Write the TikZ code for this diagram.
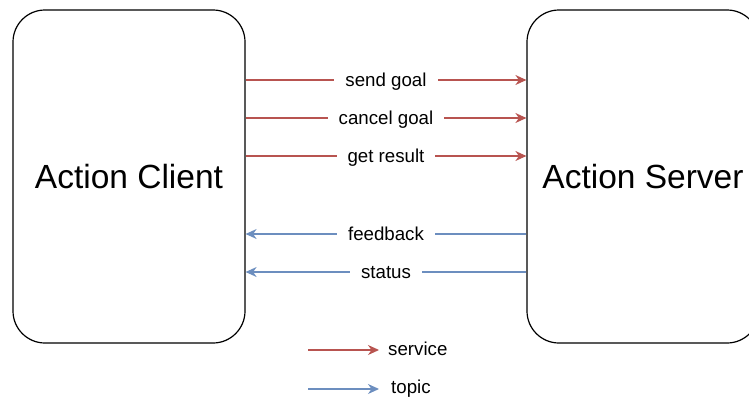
\documentclass[tikz,border=0pt]{standalone}
\usepackage{fontspec}
\setmainfont{Liberation Sans}
\usetikzlibrary{arrows.meta}
\definecolor{svcred}{HTML}{B85450}
\definecolor{topblue}{HTML}{6C8EBF}
\begin{document}
\begin{tikzpicture}[x=1pt,y=-1pt,
  actor/.style={draw=black, line width=1.2pt, rounded corners=32pt, minimum width=232pt, minimum height=333pt, inner sep=0pt, font=\fontsize{33.5}{40}\selectfont},
  tip/.style={-{Stealth[length=11pt,width=10pt,inset=3.5pt]}},
  svc/.style={tip, draw=svcred, line width=1.2pt},
  tpc/.style={tip, draw=topblue, line width=1.2pt},
  lbl/.style={fill=white, text=black, font=\fontsize{18.7}{22}\selectfont, inner xsep=11pt, inner ysep=2pt, text height=13.4pt, text depth=0pt},
  legend/.style={anchor=base west, inner sep=0pt, font=\fontsize{18.7}{22}\selectfont}]
\clip (0,0) rectangle (749,399);
\node[actor] (client) at (129,176.5) {Action Client};
\node[actor] (server) at (643,176.5) {Action Server};
\coordinate (y1) at (0,80);
\coordinate (y2) at (0,118);
\coordinate (y3) at (0,156);
\coordinate (y4) at (0,234);
\coordinate (y5) at (0,272);
\draw[svc] (client.east |- y1) -- node[lbl] {send goal} (server.west |- y1);
\draw[svc] (client.east |- y2) -- node[lbl] {cancel goal} (server.west |- y2);
\draw[svc] (client.east |- y3) -- node[lbl] {get result} (server.west |- y3);
\draw[tpc] (server.west |- y4) -- node[lbl] {feedback} (client.east |- y4);
\draw[tpc] (server.west |- y5) -- node[lbl] {status} (client.east |- y5);
\coordinate (ls0) at (308,350);
\coordinate (ls1) at (379,350);
\coordinate (lt0) at (308,389);
\coordinate (lt1) at (379,389);
\node[legend] (lsvc) at (388,355.5) {service};
\node[legend] (ltop) at (391,393.5) {topic};
\draw[svc] (ls0) -- (ls1);
\draw[tpc] (lt0) -- (lt1);
\end{tikzpicture}
\end{document}
